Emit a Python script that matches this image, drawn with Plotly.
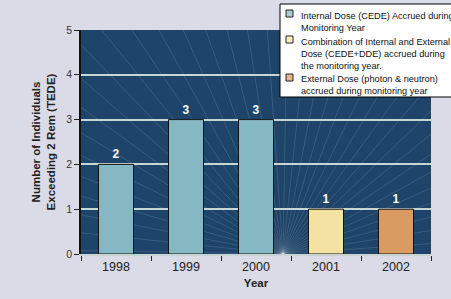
import math
import plotly.graph_objects as go

years = ["1998", "1999", "2000", "2001", "2002"]
internal_years = ["1998", "1999", "2000"]
internal_vals = [2, 3, 3]
combo_years = ["2001"]
combo_vals = [1]
external_years = ["2002"]
external_vals = [1]

legend_texts = [
    "Internal Dose (CEDE) Accrued during<br>Monitoring Year",
    "Combination of Internal and External<br>Dose (CEDE+DDE) accrued during<br>the monitoring year.",
    "External Dose (photon & neutron)<br>accrued during monitoring year",
]
names = ["Internal Dose (CEDE)", "Combination (CEDE+DDE)", "External Dose"]
colors = ["#86b8c4", "#f4e2a2", "#d99b62"]
legend_colors = ["#a9c9d3", "#fbf1bf", "#e6b48c"]

W, H = 451, 299
ML, MR, MT, MB = 81, 20, 30, 45
PW, PH = W - ML - MR, H - MT - MB


def px(x):
    return (x - ML) / PW


def py(y):
    return (H - MB - y) / PH


fig = go.Figure()
for xs, ys, nm, c in zip([internal_years, combo_years, external_years],
                         [internal_vals, combo_vals, external_vals], names, colors):
    fig.add_trace(go.Bar(
        x=xs, y=ys, name=nm, width=0.5,
        marker=dict(color=c, line=dict(color="#111111", width=1)),
        text=[str(v) for v in ys], textposition="outside",
        textfont=dict(color="white", size=12, family="Liberation Sans, Arial", weight="bold"),
        cliponaxis=False, showlegend=False,
    ))

shapes = []
# decorative background fan (clipped to plot area)
fx, fy = (283 - ML) / 70 - 0.5, 0.0
for k in range(36):
    a = math.radians(4 + k * 5)
    shapes.append(dict(type="line", xref="x", yref="y", layer="below",
                       x0=fx, y0=fy,
                       x1=fx + 700 * math.cos(a) / 70, y1=fy + 700 * math.sin(a) / (PH / 5),
                       line=dict(color="rgba(255,255,255,0.2)", width=0.6)))

# manual legend box
shapes.append(dict(type="rect", xref="paper", yref="paper",
                   x0=px(280), x1=px(470), y0=py(97), y1=py(4),
                   fillcolor="white", line=dict(color="black", width=1), layer="above"))
annotations = []
sym_tops = [10, 36, 74]
text_tops = [9, 35, 72]
for i, (txt, col) in enumerate(zip(legend_texts, legend_colors)):
    t = sym_tops[i]
    shapes.append(dict(type="rect", xref="paper", yref="paper",
                       x0=px(286), x1=px(293), y0=py(t + 7), y1=py(t),
                       fillcolor=col, line=dict(color="#222222", width=1), layer="above"))
    annotations.append(dict(xref="paper", yref="paper", x=px(299), y=py(text_tops[i]),
                            xanchor="left", yanchor="top", align="left", text=txt, showarrow=False,
                            font=dict(size=9.2, color="#111111")))

fig.update_layout(
    width=W, height=H,
    margin=dict(l=ML, r=MR, t=MT, b=MB, autoexpand=False),
    paper_bgcolor="#dadbe6",
    plot_bgcolor="#1f4469",
    barmode="overlay",
    font=dict(family="Liberation Sans, Arial", color="#222222"),
    shapes=shapes,
    annotations=annotations,
    xaxis=dict(
        type="category", categoryorder="array", categoryarray=years,
        tickson="boundaries", ticks="outside", ticklen=5, tickcolor="#222222",
        tickfont=dict(size=12.5, color="#222222"),
        showgrid=False, showline=True, linecolor="#c9d3d2", linewidth=2,
        title=dict(text="<b>Year</b>", font=dict(size=11.5, color="#222222"), standoff=6),
        range=[-0.5, 4.5],
    ),
    yaxis=dict(
        range=[0, 5], dtick=1, ticks="outside", ticklen=5, tickcolor="#222222",
        tickfont=dict(size=10.5, color="#333333"),
        showgrid=True, gridcolor="#c6d6d2", gridwidth=1.5,
        showline=True, linecolor="#111111", linewidth=1.5,
        zeroline=False,
        title=dict(text="<b>Number of Individuals<br>Exceeding 2 Rem (TEDE)</b>",
                   font=dict(size=11.5, color="#222222"), standoff=8),
    ),
)

fig.write_html("out.html", config={"displayModeBar": False},
               post_script="document.body.style.margin='0';document.body.style.overflow='hidden';")
